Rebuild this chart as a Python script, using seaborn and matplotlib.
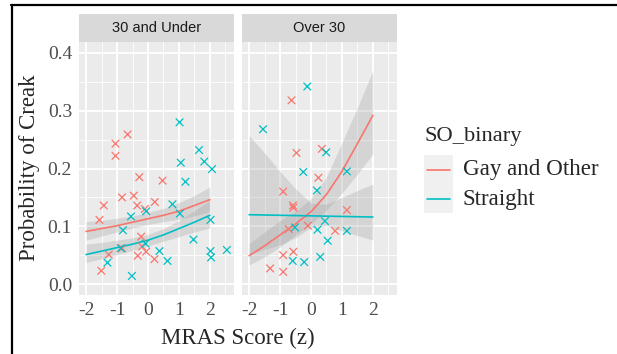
import numpy as np
import pandas as pd
import matplotlib
matplotlib.use("Agg")
import matplotlib.pyplot as plt
import seaborn as sns
from matplotlib.lines import Line2D
from matplotlib.patches import Rectangle

# points, "30 and Under"
u_red_x = [-1.57, -1.43, -1.27, -1.51, -1.05, -1.05, -0.66, -0.84, -0.84, -0.28,
           -0.46, -0.35, -0.10, -0.22, -0.19, -0.06, -0.33, 0.22, 0.47, 0.21]
u_red_y = [0.111, 0.136, 0.051, 0.023, 0.243, 0.222, 0.259, 0.150, 0.062, 0.185,
           0.153, 0.136, 0.130, 0.082, 0.065, 0.056, 0.049, 0.142, 0.179, 0.043]
u_teal_x = [-0.55, -0.81, -0.88, -1.31, -0.52, -0.06, -0.08, 0.37, 0.63, 0.79, 1.03,
            1.02, 1.06, 1.21, 1.65, 1.82, 2.07, 2.02, 1.47, 2.02, 2.04, 2.55]
u_teal_y = [0.117, 0.093, 0.062, 0.037, 0.014, 0.126, 0.070, 0.057, 0.040, 0.138, 0.122,
            0.280, 0.210, 0.177, 0.232, 0.212, 0.199, 0.111, 0.077, 0.057, 0.046, 0.059]

# points, "Over 30"
o_red_x = [-0.63, -0.47, 0.35, 0.24, -0.90, -0.58, -0.57, -0.72, -0.10, 0.78,
           1.16, -0.90, -0.57, -1.32, -0.90]
o_red_y = [0.318, 0.227, 0.234, 0.184, 0.160, 0.136, 0.132, 0.095, 0.101, 0.092,
           0.128, 0.050, 0.056, 0.027, 0.021]
o_teal_x = [-0.12, -1.55, 0.49, -0.25, 1.16, 0.19, 0.45, -0.52, 0.21, 1.16,
            0.54, -0.59, -0.22, 0.30]
o_teal_y = [0.342, 0.268, 0.228, 0.194, 0.195, 0.162, 0.109, 0.098, 0.094, 0.092,
            0.075, 0.040, 0.038, 0.047]

# fitted curves + 95% bands, read at these x values
fit_x = [-2, -1.5, -1, -0.5, 0, 0.5, 1, 1.5, 2]
u_red_fit = [0.091, 0.096, 0.101, 0.107, 0.113, 0.119, 0.126, 0.136, 0.146]
u_red_lo = [0.076, 0.083, 0.090, 0.097, 0.103, 0.108, 0.112, 0.118, 0.125]
u_red_hi = [0.108, 0.110, 0.114, 0.118, 0.124, 0.131, 0.141, 0.153, 0.168]
u_teal_fit = [0.051, 0.057, 0.063, 0.069, 0.076, 0.085, 0.096, 0.107, 0.119]
u_teal_lo = [0.037, 0.044, 0.051, 0.058, 0.066, 0.074, 0.082, 0.090, 0.097]
u_teal_hi = [0.069, 0.072, 0.076, 0.080, 0.086, 0.096, 0.110, 0.127, 0.145]
o_red_fit = [0.049, 0.066, 0.085, 0.104, 0.125, 0.155, 0.195, 0.243, 0.292]
o_red_lo = [0.033, 0.047, 0.064, 0.085, 0.104, 0.128, 0.157, 0.190, 0.225]
o_red_hi = [0.070, 0.090, 0.110, 0.126, 0.148, 0.185, 0.245, 0.305, 0.370]
o_teal_fit = [0.120, 0.1195, 0.119, 0.1185, 0.118, 0.1175, 0.117, 0.1165, 0.116]
o_teal_lo = [0.051, 0.060, 0.068, 0.080, 0.098, 0.101, 0.092, 0.084, 0.076]
o_teal_hi = [0.257, 0.227, 0.195, 0.165, 0.140, 0.138, 0.150, 0.162, 0.173]

groups = ["Gay and Other", "Straight"]
panels = ["30 and Under", "Over 30"]
x_ticks = [-2, -1, 0, 1, 2]
y_ticks = [0.0, 0.1, 0.2, 0.3, 0.4]
palette = {"Gay and Other": "#F8766D", "Straight": "#00BFC4"}

def make_points(rx, ry, tx, ty):
    return pd.DataFrame({"x": rx + tx, "y": ry + ty,
                         "SO_binary": [groups[0]] * len(rx) + [groups[1]] * len(tx)})

def make_fit(rf, rl, rh, tf, tl, th):
    return pd.DataFrame({"x": fit_x * 2, "fit": rf + tf, "lo": rl + tl, "hi": rh + th,
                         "SO_binary": [groups[0]] * len(fit_x) + [groups[1]] * len(fit_x)})

pts = [make_points(u_red_x, u_red_y, u_teal_x, u_teal_y),
       make_points(o_red_x, o_red_y, o_teal_x, o_teal_y)]
fits = [make_fit(u_red_fit, u_red_lo, u_red_hi, u_teal_fit, u_teal_lo, u_teal_hi),
        make_fit(o_red_fit, o_red_lo, o_red_hi, o_teal_fit, o_teal_lo, o_teal_hi)]

sns.set_theme(style="darkgrid")
plt.rcParams["font.family"] = ["Liberation Serif", "DejaVu Serif"]

W, H = 617, 354
fig = plt.figure(figsize=(W / 100, H / 100), dpi=100)

def fx(px):
    return px / W

def fy(py):
    return 1 - py / H

panel_left = [79, 242]
panel_w = 155
top, bottom = 42, 295

for i, name in enumerate(panels):
    ax = fig.add_axes([fx(panel_left[i]), fy(bottom), fx(panel_w), (bottom - top) / H])
    ax.set_facecolor("#EBEBEB")
    for _, row in fits[i].groupby("SO_binary"):
        ax.fill_between(row["x"], row["lo"], row["hi"], color="#999999", alpha=0.27,
                        lw=0, zorder=1.5)
    sns.lineplot(data=fits[i], x="x", y="fit", hue="SO_binary", palette=palette,
                 ax=ax, legend=False, lw=1.2, zorder=2)
    sns.scatterplot(data=pts[i], x="x", y="y", hue="SO_binary", palette=palette,
                    marker="x", s=30, linewidth=0.9, ax=ax, legend=False, zorder=3)
    ax.set_xlim(-2.23, 2.78)
    ax.set_ylim(-0.019, 0.419)
    ax.set_xticks(x_ticks)
    ax.set_xticks([-1.5, -0.5, 0.5, 1.5, 2.5], minor=True)
    ax.set_yticks(y_ticks)
    ax.set_yticks([0.05, 0.15, 0.25, 0.35], minor=True)
    ax.grid(which="major", color="white", lw=1.3)
    ax.grid(which="minor", color="white", lw=0.6)
    ax.set_axisbelow(True)
    ax.set_xlabel("")
    ax.set_ylabel("")
    ax.tick_params(axis="both", which="major", length=3, width=1, color="#333333",
                   labelsize=14, labelcolor="#4D4D4D", pad=2)
    ax.tick_params(which="minor", length=0)
    ax.set_xticklabels([str(t) for t in x_ticks])
    if i == 0:
        ax.set_yticklabels([f"{t:.1f}" for t in y_ticks])
    else:
        ax.tick_params(axis="y", labelleft=False, length=0)
    for s in ax.spines.values():
        s.set_visible(False)

    # facet strip
    strip = fig.add_axes([fx(panel_left[i]), fy(top), fx(panel_w), (top - 14) / H])
    strip.set_facecolor("#D9D9D9")
    strip.set_xticks([])
    strip.set_yticks([])
    for s in strip.spines.values():
        s.set_visible(False)
    strip.text(0.5, 0.5, name, ha="center", va="center", fontsize=10.5,
               color="#1A1A1A", family="Liberation Sans", transform=strip.transAxes)

fig.text(fx(30), fy(168), "Probability of Creak", rotation=90, ha="center",
         va="center", fontsize=16.5)
fig.text(fx(238), fy(338), "MRAS Score (z)", ha="center", va="center", fontsize=16.5)

# legend
fig.text(fx(424), fy(137), "SO_binary", ha="left", va="center", fontsize=16.2)
for k, g in enumerate(groups):
    y0 = 155 + 29 * k
    fig.add_artist(Rectangle((fx(424), fy(y0 + 29)), fx(29), 29 / H,
                             transform=fig.transFigure, color="#F0F0F0", lw=0))
    fig.add_artist(Line2D([fx(427), fx(450)], [fy(y0 + 14.5)] * 2,
                          transform=fig.transFigure, color=palette[g], lw=1.2))
    fig.text(fx(463), fy(y0 + 15), g, ha="left", va="center", fontsize=16.6)

# image frame (top and left edges only)
fig.add_artist(Line2D([fx(11), 1], [fy(4.5)] * 2, transform=fig.transFigure,
                      color="black", lw=1.6))
fig.add_artist(Line2D([fx(12), fx(12)], [0, fy(4.5)], transform=fig.transFigure,
                      color="black", lw=1.6))

fig.savefig("out.png", dpi=100)
